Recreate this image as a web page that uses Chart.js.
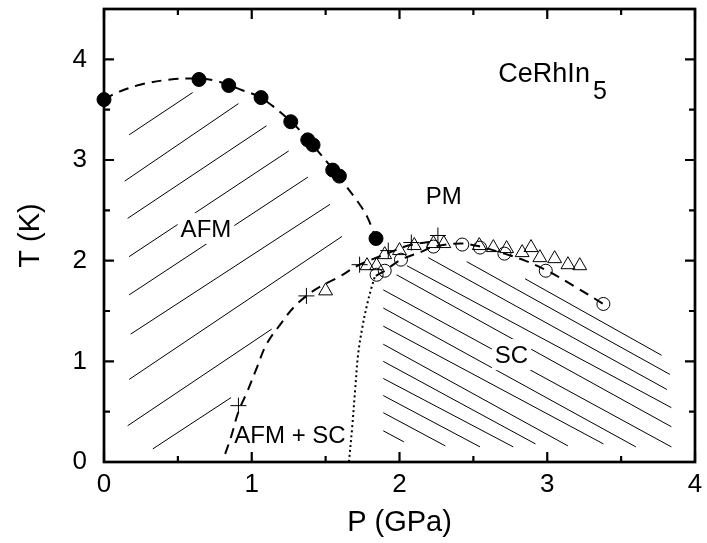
<!DOCTYPE html>
<html>
<head>
<meta charset="utf-8">
<script src="https://cdn.jsdelivr.net/npm/chart.js@4.4.1/dist/chart.umd.min.js"></script>
<style>
  html, body { margin: 0; padding: 0; background: #fff; }
</style>
</head>
<body>
<canvas id="diagram" width="707" height="543"></canvas>
<script>
// Eixos
const xTickValues = [0, 1, 2, 3, 4];
const yTickValues = [0, 1, 2, 3, 4];
const xMinorValues = [0.5, 1.5, 2.5, 3.5];
const yMinorValues = [0.5, 1.5, 2.5, 3.5, 4.5];

// Círculos cheios: T_N (AFM)
const afmP = [0, 0.643, 0.844, 1.063, 1.264, 1.379, 1.415, 1.548, 1.593, 1.841];
const afmT = [3.60, 3.80, 3.74, 3.62, 3.38, 3.20, 3.15, 2.90, 2.84, 2.22];

// Círculos abertos: T_c
const circP = [1.845, 1.90, 2.01, 2.23, 2.425, 2.545, 2.71, 2.99, 3.38];
const circT = [1.86, 1.90, 2.01, 2.14, 2.16, 2.13, 2.07, 1.90, 1.57];

// Triângulos abertos
const triP = [1.50, 1.78, 1.845, 1.90, 2.00, 2.10, 2.23, 2.30, 2.54, 2.635, 2.725, 2.83, 2.89, 2.95, 3.05, 3.14, 3.22];
const triT = [1.70, 1.95, 1.95, 2.06, 2.10, 2.15, 2.17, 2.17, 2.15, 2.13, 2.12, 2.08, 2.13, 2.03, 2.02, 1.96, 1.95];

// Cruzes
const crossP = [0.91, 1.37, 1.73, 1.924, 2.08, 2.26];
const crossT = [0.56, 1.65, 1.96, 2.10, 2.18, 2.25];

// Curvas tracejadas / pontilhada
const afmCurveP = [0, 0.09, 0.25, 0.45, 0.60, 0.75, 0.94, 1.06, 1.26, 1.40, 1.57, 1.72, 1.78, 1.84];
const afmCurveT = [3.60, 3.67, 3.75, 3.80, 3.81, 3.79, 3.69, 3.62, 3.39, 3.17, 2.87, 2.58, 2.44, 2.22];
const mixCurveP = [0.82, 0.86, 0.91, 0.97, 1.03, 1.10, 1.20, 1.28, 1.37, 1.46, 1.58, 1.73, 1.88, 2.06, 2.22];
const mixCurveT = [0.08, 0.25, 0.50, 0.70, 0.92, 1.17, 1.38, 1.53, 1.65, 1.74, 1.83, 1.96, 2.05, 2.15, 2.19];
const domeCurveP = [1.84, 1.90, 2.01, 2.15, 2.23, 2.42, 2.545, 2.71, 2.85, 3.00, 3.19, 3.38];
const domeCurveT = [1.85, 1.90, 2.01, 2.09, 2.14, 2.17, 2.14, 2.07, 2.00, 1.90, 1.74, 1.57];
const dotCurveP = [1.658, 1.68, 1.70, 1.72, 1.75, 1.78, 1.81, 1.835];
const dotCurveT = [0, 0.35, 0.72, 1.07, 1.35, 1.56, 1.73, 1.85];

// Hachuras: [P1, T1, P2, T2]
const afmHatch = [
  [0.17, 3.25, 0.60, 3.67],
  [0.14, 2.79, 0.91, 3.56],
  [0.16, 2.42, 1.10, 3.34],
  [0.17, 2.04, 1.25, 3.09],
  [0.17, 1.66, 1.38, 2.83],
  [0.18, 1.27, 1.53, 2.56],
  [0.17, 0.82, 1.61, 2.24],
  [0.16, 0.36, 1.135, 1.32],
  [0.33, 0.13, 0.86, 0.64],
];
const scHatch = [
  [1.89, 0.31, 2.03, 0.20],
  [1.89, 0.49, 2.31, 0.16],
  [1.89, 0.66, 2.545, 0.15],
  [1.89, 0.83, 2.77, 0.15],
  [1.89, 1.00, 2.92, 0.18],
  [1.89, 1.17, 3.14, 0.16],
  [1.89, 1.35, 3.38, 0.18],
  [1.89, 1.53, 3.60, 0.15],
  [1.89, 1.71, 3.84, 0.15],
  [1.98, 1.86, 3.84, 0.35],
  [2.05, 1.95, 3.84, 0.54],
  [2.195, 2.03, 3.81, 0.72],
  [2.455, 1.99, 3.83, 0.87],
  [2.85, 1.82, 3.774, 1.06],
];

// Rótulos das fases
const phaseLabels = ["AFM", "PM", "SC", "AFM + SC"];
const phaseLabelP = [0.69, 2.30, 2.758, 1.259];
const phaseLabelT = [2.325, 2.65, 1.072, 0.273];
const phaseLabelBox = [true, false, true, false];
const compoundName = "CeRhIn";
const compoundSub = "5";
const compoundP = 2.669;
const compoundT = 3.77;

const FONT = "'Liberation Sans', Arial, Helvetica, sans-serif";

const toPoints = (ps, ts) => ps.map((p, i) => ({ x: p, y: ts[i] }));

const markerSet = (ps, ts, style, radius, fill, width) => ({
  data: toPoints(ps, ts),
  showLine: false,
  pointStyle: style,
  pointRadius: radius,
  pointBackgroundColor: fill,
  pointBorderColor: "#000",
  pointBorderWidth: width,
  clip: false,
  order: 1,
});

const curveSet = (ps, ts, dash, width) => ({
  data: toPoints(ps, ts),
  showLine: true,
  pointRadius: 0,
  borderColor: "#000",
  borderWidth: width,
  borderDash: dash,
  tension: 0.35,
  fill: false,
  order: 5,
});

const hatchSet = (seg) => ({
  data: [{ x: seg[0], y: seg[1] }, { x: seg[2], y: seg[3] }],
  showLine: true,
  pointRadius: 0,
  borderColor: "#000",
  borderWidth: 1,
  order: 10,
});

const datasets = [
  markerSet(afmP, afmT, "circle", 7, "#000", 1),
  markerSet(circP, circT, "circle", 6.5, "rgba(0,0,0,0)", 1),
  markerSet(triP, triT, "triangle", 8, "rgba(0,0,0,0)", 1),
  markerSet(crossP, crossT, "cross", 8, "#000", 1),
  curveSet(afmCurveP, afmCurveT, [10, 7], 2),
  curveSet(mixCurveP, mixCurveT, [10, 7], 2),
  curveSet(domeCurveP, domeCurveT, [10, 7], 2),
  curveSet(dotCurveP, dotCurveT, [2, 3], 2),
  ...afmHatch.map(hatchSet),
  ...scHatch.map(hatchSet),
];

// Moldura com marcas internas nos quatro lados
const framePlugin = {
  id: "frame",
  beforeDatasetsDraw(chart) {
    const { ctx, chartArea: a, scales } = chart;
    ctx.save();
    ctx.strokeStyle = "#000";
    ctx.lineWidth = 2.7;
    ctx.strokeRect(a.left, a.top, a.right - a.left, a.bottom - a.top);
    ctx.lineWidth = 2.2;
    ctx.beginPath();
    const xMarks = (vals, len) => vals.forEach((v) => {
      const px = scales.x.getPixelForValue(v);
      ctx.moveTo(px, a.bottom); ctx.lineTo(px, a.bottom - len);
      ctx.moveTo(px, a.top); ctx.lineTo(px, a.top + len);
    });
    const yMarks = (vals, len) => vals.forEach((v) => {
      const py = scales.y.getPixelForValue(v);
      ctx.moveTo(a.left, py); ctx.lineTo(a.left + len, py);
      ctx.moveTo(a.right, py); ctx.lineTo(a.right - len, py);
    });
    xMarks(xTickValues, 10);
    xMarks(xMinorValues, 6);
    yMarks(yTickValues, 10);
    yMarks(yMinorValues, 6);
    ctx.stroke();
    ctx.restore();
  },
};

// Rótulos de texto dentro do gráfico
const labelPlugin = {
  id: "phaseLabels",
  afterDatasetsDraw(chart) {
    const { ctx, scales } = chart;
    const size = 24;
    ctx.save();
    ctx.font = size + "px " + FONT;
    ctx.textAlign = "center";
    ctx.textBaseline = "alphabetic";
    phaseLabels.forEach((txt, i) => {
      const cx = scales.x.getPixelForValue(phaseLabelP[i]);
      const cy = scales.y.getPixelForValue(phaseLabelT[i]);
      const w = ctx.measureText(txt).width;
      if (phaseLabelBox[i]) {
        ctx.fillStyle = "#fff";
        ctx.fillRect(cx - w / 2 - 3, cy - 15, w + 6, 31);
      }
      ctx.fillStyle = "#000";
      ctx.fillText(txt, cx, cy + size * 0.358);
    });
    ctx.font = "27px " + FONT;
    ctx.textAlign = "left";
    const lx = scales.x.getPixelForValue(compoundP);
    const ly = scales.y.getPixelForValue(compoundT);
    ctx.fillText(compoundName, lx, ly);
    const w = ctx.measureText(compoundName).width;
    ctx.font = "25px " + FONT;
    ctx.fillText(compoundSub, lx + w + 3, ly + 17);
    ctx.restore();
  },
};

new Chart(document.getElementById("diagram"), {
  type: "scatter",
  data: { datasets },
  options: {
    responsive: false,
    animation: false,
    events: [],
    layout: { padding: { top: 5, right: 12, left: 0, bottom: 0 } },
    plugins: { legend: { display: false }, tooltip: { enabled: false } },
    scales: {
      x: {
        type: "linear",
        min: 0,
        max: 4,
        afterFit: (s) => { s.height = 81; s.paddingLeft = 0; s.paddingRight = 0; },
        afterBuildTicks: (s) => { s.ticks = xTickValues.map((v) => ({ value: v })); },
        grid: { display: false, drawTicks: false },
        border: { display: false },
        ticks: { color: "#000", padding: 7, maxRotation: 0, font: { family: FONT, size: 26 } },
        title: {
          display: true,
          text: "P (GPa)",
          color: "#000",
          font: { family: FONT, size: 29 },
          padding: { top: 0, bottom: 3 },
        },
      },
      y: {
        type: "linear",
        min: 0,
        max: 4.5,
        afterFit: (s) => { s.width = 104; s.paddingTop = 0; s.paddingBottom = 0; },
        afterBuildTicks: (s) => { s.ticks = yTickValues.map((v) => ({ value: v })); },
        grid: { display: false, drawTicks: false },
        border: { display: false },
        ticks: { color: "#000", padding: 17, font: { family: FONT, size: 26 } },
        title: {
          display: true,
          text: "T (K)",
          color: "#000",
          font: { family: FONT, size: 29 },
          padding: { top: 14, bottom: 0 },
        },
      },
    },
  },
  plugins: [framePlugin, labelPlugin],
});
</script>
</body>
</html>
